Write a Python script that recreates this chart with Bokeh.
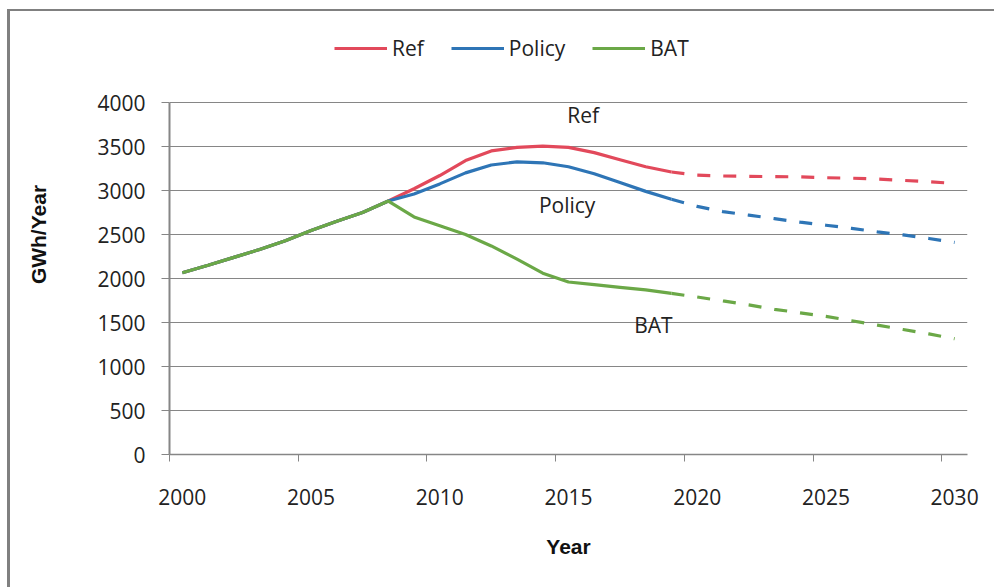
from bokeh.plotting import figure
from bokeh.models import Range1d, FixedTicker, Legend, LegendItem
from bokeh.core.properties import value
from bokeh.embed import file_html
from bokeh.resources import INLINE

years = list(range(2000, 2031))
split_year = 2019
ref = [2065, 2150, 2240, 2330, 2430, 2545, 2650, 2750, 2880, 3020, 3170, 3340, 3450, 3490,
       3505, 3490, 3430, 3350, 3270, 3210, 3175, 3165, 3160, 3158, 3155, 3145, 3140, 3130,
       3115, 3100, 3080]
policy = [2065, 2150, 2240, 2330, 2430, 2545, 2650, 2750, 2880, 2960, 3075, 3200, 3290, 3325,
          3315, 3270, 3190, 3090, 2990, 2900, 2820, 2760, 2720, 2680, 2640, 2605, 2570, 2530,
          2495, 2455, 2410]
bat = [2065, 2150, 2240, 2330, 2430, 2545, 2650, 2750, 2880, 2700, 2600, 2500, 2370, 2220,
       2060, 1960, 1930, 1900, 1870, 1830, 1790, 1745, 1700, 1650, 1610, 1570, 1520, 1470,
       1420, 1370, 1315]
series_names = ["Ref", "Policy", "BAT"]
x_labels = [2000, 2005, 2010, 2015, 2020, 2025, 2030]
y_ticks = [0, 500, 1000, 1500, 2000, 2500, 3000, 3500, 4000]

colors = ["#E2495B", "#2E75B6", "#6BA847"]
FONT = "Open Sans"
GRAY = "#868686"

# y range extends above 4000 so that the legend (drawn in the frame) is not clipped
p = figure(width=994, height=587, output_backend="svg", toolbar_location=None,
           x_range=Range1d(1999.5, 2030.5), y_range=Range1d(0, 5000),
           min_border_left=169, min_border_right=27, min_border_top=14, min_border_bottom=133)
p.outline_line_color = None
p.background_fill_color = "white"
p.border_fill_color = None
p.styles = {"box-shadow": "inset 7px 9px 0 0 #ffffff, inset 10px 11px 0 0 #808080",
            "background-color": "white"}

# axes
p.xaxis.ticker = FixedTicker(ticks=x_labels, minor_ticks=[y - 0.5 for y in x_labels])
p.xaxis.major_tick_out = 0
p.xaxis.major_tick_in = 0
p.xaxis.minor_tick_out = 7
p.xaxis.minor_tick_in = 0
p.xaxis.minor_tick_line_color = GRAY
p.xaxis.minor_tick_line_width = 1
p.xaxis.axis_line_color = GRAY
p.xaxis.axis_line_width = 1.5
p.xaxis.major_label_standoff = 27
p.xaxis.axis_label = "Year"
p.xaxis.axis_label_standoff = 27

p.yaxis.ticker = FixedTicker(ticks=y_ticks)
p.yaxis.bounds = (0, 4000)
p.yaxis.major_tick_out = 8
p.yaxis.major_tick_in = 0
p.yaxis.minor_tick_line_color = None
p.yaxis.major_tick_line_color = GRAY
p.yaxis.axis_line_color = GRAY
p.yaxis.axis_line_width = 2
p.yaxis.major_label_standoff = 16
p.yaxis.axis_label = "GWh/Year"
p.yaxis.axis_label_standoff = 44

for ax in (p.xaxis, p.yaxis):
    ax.major_label_text_font = FONT
    ax.major_label_text_font_size = "21px"
    ax.major_label_text_color = "#222222"
    ax.axis_label_text_font = "Liberation Sans"
    ax.axis_label_text_font_style = "bold"
    ax.axis_label_text_font_size = "21px"
    ax.axis_label_text_color = "#111111"

p.xgrid.grid_line_color = None
p.ygrid.ticker = FixedTicker(ticks=y_ticks)
p.ygrid.grid_line_color = GRAY
p.ygrid.grid_line_width = 1

# lines
idx = years.index(split_year)
items = []
for name, vals, col in zip(series_names, [ref, policy, bat], colors):
    r1 = p.line(years[:idx + 1], vals[:idx + 1], line_color=col, line_width=3.2)
    p.line(years[idx:], vals[idx:], line_color=col, line_width=3.2, line_dash="13 13")
    items.append(LegendItem(label=name, renderers=[r1]))

# in-plot labels
p.text(x=[2014.95, 2013.85, 2017.55], y=[3860, 2835, 1470], text=series_names,
       text_font=value(FONT), text_font_size="21px", text_color="#222222",
       text_align="left", text_baseline="middle")

legend = Legend(items=items, orientation="horizontal", location=(165, 392),
                glyph_width=53, glyph_height=20, label_height=20, label_standoff=5,
                spacing=27, padding=0, margin=0, border_line_color=None,
                background_fill_alpha=0, label_text_font=FONT,
                label_text_font_size="21px", label_text_color="#222222")
p.add_layout(legend, "center")

open("out.html", "w").write(file_html(p, INLINE))
